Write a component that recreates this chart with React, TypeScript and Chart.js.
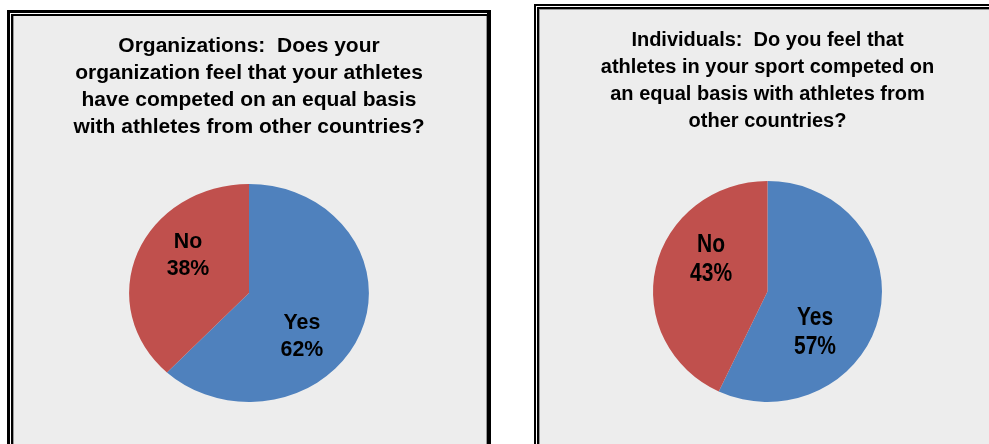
import React, { useEffect, useRef } from 'react';
import { Chart, registerables } from 'chart.js';

Chart.register(...registerables);

// ---- data ----
const categories = ['Yes', 'No'];
const orgValues = [62, 38];
const indValues = [57, 43];
const orgTitle = [
  'Organizations:  Does your',
  'organization feel that your athletes',
  'have competed on an equal basis',
  'with athletes from other countries?',
];
const indTitle = [
  'Individuals:  Do you feel that',
  'athletes in your sport competed on',
  'an equal basis with athletes from',
  'other countries?',
];
const sliceColors = ['#4F81BD', '#C0504D'];

const SANS = '"Liberation Sans", Arial, sans-serif';

// Draws the pie slightly wider than tall (like the source picture) and writes
// "category / percent" labels inside each slice.
const pieDecor = {
  id: 'pieDecor',
  beforeDatasetsDraw(chart: any, _args: any, opts: any) {
    const { ctx } = chart;
    const arc = chart.getDatasetMeta(0).data[0];
    if (!arc) return;
    const { x, y } = arc.getProps(['x', 'y'], true);
    ctx.save();
    ctx.translate(x, y);
    ctx.scale(opts.sx, 1);
    ctx.translate(-x, -y);
  },
  afterDatasetsDraw(chart: any, _args: any, opts: any) {
    const { ctx } = chart;
    ctx.restore();
    const meta = chart.getDatasetMeta(0);
    const data = chart.data.datasets[0].data as number[];
    const total = data.reduce((a: number, b: number) => a + b, 0);
    meta.data.forEach((arc: any, i: number) => {
      const { x, y, startAngle, endAngle, outerRadius } = arc.getProps(
        ['x', 'y', 'startAngle', 'endAngle', 'outerRadius'],
        true
      );
      const anchor = opts.anchors[i];
      const a = (startAngle + endAngle) / 2 + (anchor.turn * Math.PI) / 180;
      const cx = x + Math.cos(a) * outerRadius * anchor.at * opts.sx;
      const cy = y + Math.sin(a) * outerRadius * anchor.at;
      const cap = opts.size * 0.716;
      const name = String(chart.data.labels[i]);
      const pct = Math.round((data[i] / total) * 100) + '%';
      ctx.save();
      ctx.translate(cx, cy);
      ctx.scale(opts.textScaleX, 1);
      ctx.font = `bold ${opts.size}px ${SANS}`;
      ctx.fillStyle = '#000';
      ctx.textAlign = 'center';
      ctx.textBaseline = 'alphabetic';
      ctx.fillText(name, 0, -opts.gap / 2 + cap / 2);
      ctx.fillText(pct, 0, opts.gap / 2 + cap / 2);
      ctx.restore();
    });
  },
};

type PieProps = {
  values: number[];
  title: string[];
  titleSize: number;
  titleLH: number;
  titlePadTop: number;
  titlePadBottom: number;
  padBottom: number;
  radius: number;
  sx: number;
  labelSize: number;
  labelScaleX: number;
  labelGap: number;
  anchors: { turn: number; at: number }[];
  left: number;
  top: number;
  width: number;
  height: number;
};

function PieChart(p: PieProps) {
  const ref = useRef<HTMLCanvasElement | null>(null);
  useEffect(() => {
    if (!ref.current) return;
    const chart = new Chart(ref.current, {
      type: 'pie',
      data: {
        labels: categories,
        datasets: [
          {
            data: p.values,
            backgroundColor: sliceColors,
            borderWidth: 0,
          },
        ],
      },
      options: {
        responsive: false,
        animation: false,
        devicePixelRatio: 1,
        radius: p.radius,
        layout: { padding: { top: 0, left: 0, right: 0, bottom: p.padBottom } },
        plugins: {
          legend: { display: false },
          tooltip: { enabled: false },
          title: {
            display: true,
            text: p.title,
            color: '#000',
            font: { family: SANS, size: p.titleSize, weight: 'bold', lineHeight: p.titleLH },
            padding: { top: p.titlePadTop, bottom: p.titlePadBottom },
          },
          pieDecor: {
            sx: p.sx,
            anchors: p.anchors,
            size: p.labelSize,
            textScaleX: p.labelScaleX,
            gap: p.labelGap,
          },
        } as any,
      } as any,
      plugins: [pieDecor],
    });
    return () => chart.destroy();
  }, []);
  return (
    <canvas
      ref={ref}
      width={p.width}
      height={p.height}
      style={{ position: 'absolute', left: p.left, top: p.top, width: p.width, height: p.height }}
    />
  );
}

type Layer = { color: string; t: number; r: number; l: number };

function Frame({ x, y, w, h, layers }: { x: number; y: number; w: number; h: number; layers: Layer[] }) {
  return (
    <div style={{ position: 'absolute', left: x, top: y, width: w, height: h }}>
      {layers.map((ly, i) => (
        <div
          key={i}
          style={{
            position: 'absolute',
            left: ly.l,
            top: ly.t,
            right: ly.r,
            bottom: 0,
            background: ly.color,
          }}
        />
      ))}
    </div>
  );
}

export default function App() {
  return (
    <div style={{ position: 'relative', width: 989, height: 444, overflow: 'hidden', background: '#fff' }}>
      <style>{`body{margin:0}`}</style>
      <Frame
        x={7}
        y={10}
        w={484}
        h={470}
        layers={[
          { color: '#000', t: 0, r: 0, l: 0 },
          { color: '#fff', t: 3, r: 4, l: 3 },
          { color: '#000', t: 4, r: 4, l: 4 },
          { color: '#999', t: 6, r: 4, l: 6 },
          { color: '#EDEDED', t: 6, r: 5, l: 7 },
        ]}
      />
      <Frame
        x={534}
        y={4}
        w={468}
        h={470}
        layers={[
          { color: '#000', t: 0, r: 0, l: 0 },
          { color: '#fff', t: 2, r: 2, l: 2 },
          { color: '#000', t: 3, r: 3, l: 3 },
          { color: '#999', t: 5, r: 5, l: 5 },
          { color: '#EDEDED', t: 6, r: 6, l: 6 },
        ]}
      />
      <PieChart
        values={orgValues}
        title={orgTitle}
        titleSize={21}
        titleLH={1.295}
        titlePadTop={16.4}
        titlePadBottom={10}
        padBottom={21.2}
        radius={109}
        sx={1.1}
        labelSize={22}
        labelScaleX={0.97}
        labelGap={27}
        anchors={[
          { turn: 19.2, at: 0.583 },
          { turn: 13.5, at: 0.622 },
        ]}
        left={13}
        top={16}
        width={472}
        height={440}
      />
      <PieChart
        values={indValues}
        title={indTitle}
        titleSize={20}
        titleLH={1.36}
        titlePadTop={16.7}
        titlePadBottom={10}
        padBottom={18.5}
        radius={110.5}
        sx={1.036}
        labelSize={25}
        labelScaleX={0.84}
        labelGap={29}
        anchors={[
          { turn: 27.8, at: 0.545 },
          { turn: 19.4, at: 0.581 },
        ]}
        left={540}
        top={10}
        width={455}
        height={446}
      />
    </div>
  );
}
